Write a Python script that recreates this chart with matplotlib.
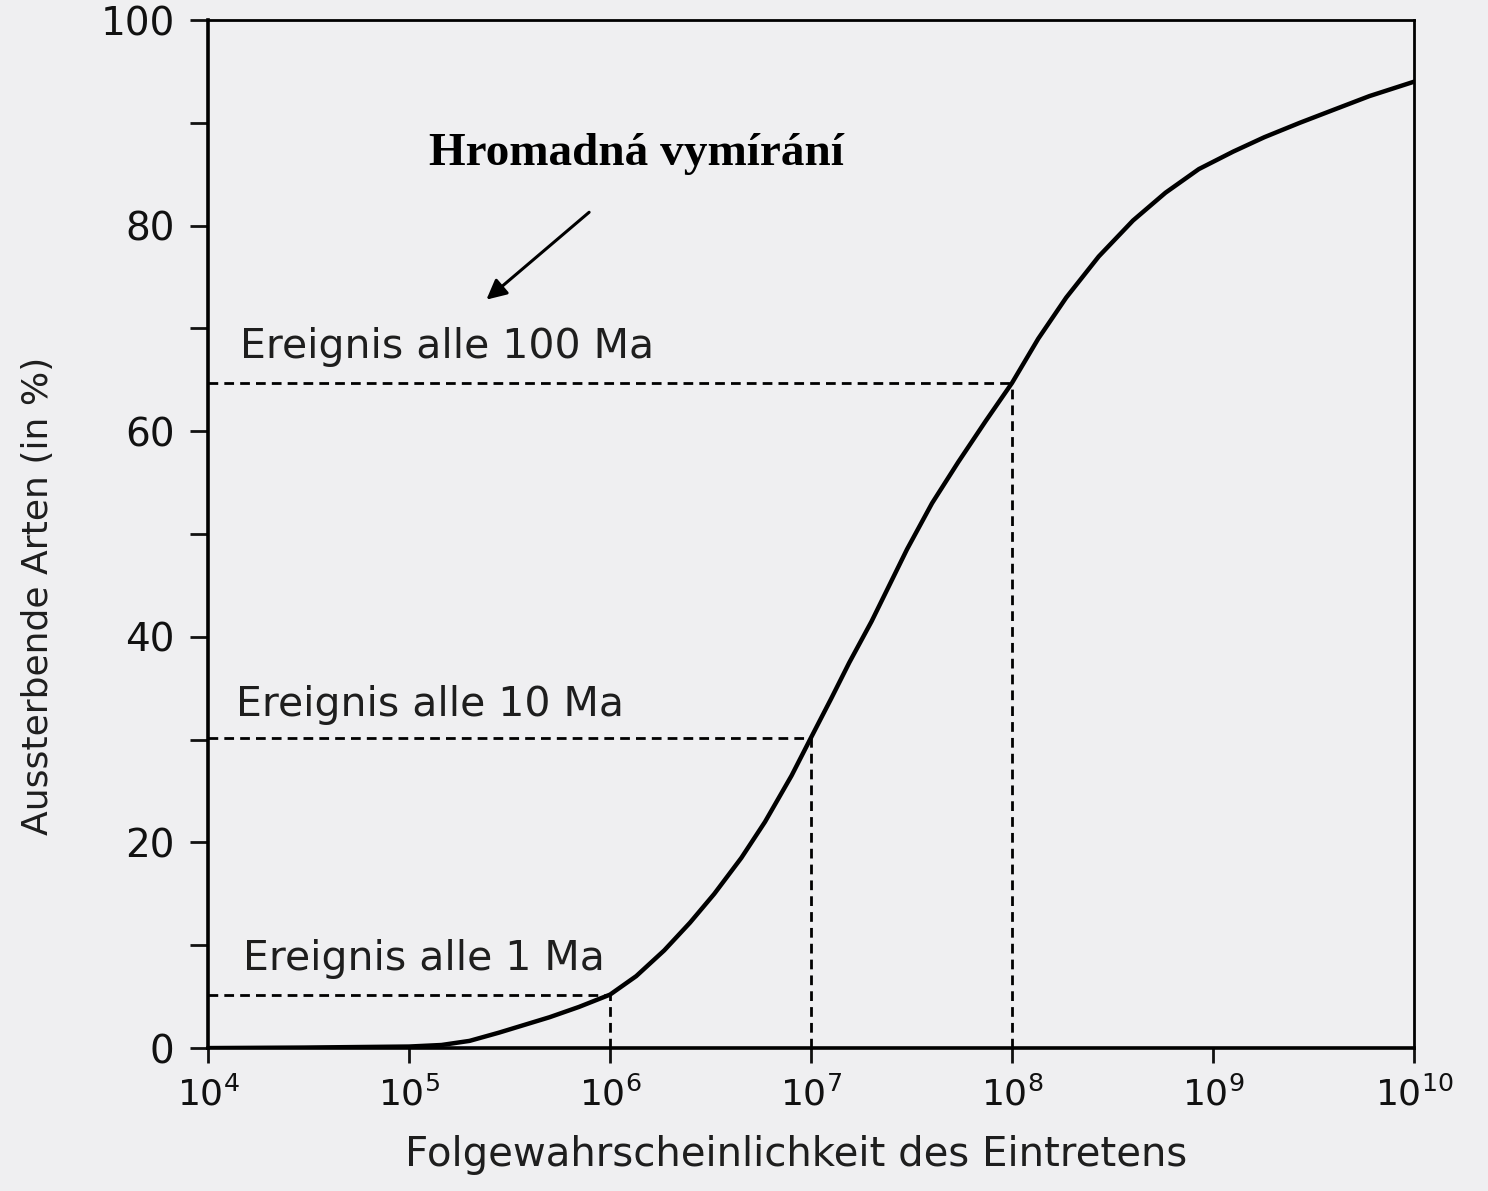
import matplotlib
matplotlib.use('Agg')
import matplotlib.pyplot as plt
import matplotlib.ticker as mticker
from matplotlib.patches import FancyArrowPatch

# Folgewahrscheinlichkeit (Jahre) und Anteil aussterbender Arten (%)
years = [1e4, 3e4, 1e5, 1.45e5, 2e5, 2.8e5, 5e5, 7e5, 1e6, 1.35e6, 1.86e6,
         2.5e6, 3.3e6, 4.5e6, 5.9e6, 8e6, 1e7, 1.26e7, 1.55e7, 2e7, 3e7,
         4e7, 5.4e7, 7.4e7, 1e8, 1.35e8, 1.86e8, 2.7e8, 4e8, 5.8e8, 8.5e8,
         1.26e9, 1.8e9, 2.7e9, 3.9e9, 6e9, 1e10]
extinct = [0, 0.05, 0.15, 0.3, 0.7, 1.5, 3.0, 4.0, 5.2, 7.0, 9.5,
           12.2, 15, 18.5, 22, 26.5, 30.2, 34, 37.5, 41.5, 48.5,
           53, 57, 61, 64.7, 69, 73, 77, 80.5, 83.2, 85.5,
           87.2, 88.6, 90, 91.2, 92.6, 94]

# Ereignisse alle 1 / 10 / 100 Ma
event_years = [1e6, 1e7, 1e8]
event_extinct = [5.2, 30.2, 64.7]
event_labels = ['Ereignis alle 1 Ma', 'Ereignis alle 10 Ma', 'Ereignis alle 100 Ma']
label_pos = [(1.5e4, 7.6), (1.38e4, 32.3), (1.44e4, 67.1)]

bg = '#efeff1'
fig = plt.figure(figsize=(14.88, 11.91), dpi=100, facecolor=bg)
ax = fig.add_axes([0.1398, 0.12, 0.8105, 0.8632])
ax.set_facecolor(bg)

ax.plot(years, extinct, color='black', lw=3.2, solid_joinstyle='round')

for x, y in zip(event_years, event_extinct):
    ax.plot([1e4, x], [y, y], color='black', lw=2, dashes=(3.5, 2.2))
    ax.plot([x, x], [0, y], color='black', lw=2, dashes=(3.5, 2.2))

for text, (x, y) in zip(event_labels, label_pos):
    ax.text(x, y, text, fontsize=29.5, color='#1e1e1e', va='baseline', ha='left')

ax.text(10**6.129, 85.9, 'Hromadná vymírání', family='Liberation Serif',
        fontweight='bold', fontsize=34, ha='center', va='baseline')
arrow = FancyArrowPatch((10**5.896, 81.3), (10**5.385, 72.8),
                        arrowstyle='-|>', color='black', lw=2.2,
                        mutation_scale=30, shrinkA=0, shrinkB=0)
ax.add_patch(arrow)

ax.set_xscale('log')
ax.set_xlim(1e4, 1e10)
ax.set_ylim(0, 100)
ax.xaxis.set_major_locator(mticker.LogLocator(base=10, numticks=10))
ax.xaxis.set_minor_locator(mticker.NullLocator())
ax.yaxis.set_major_locator(mticker.MultipleLocator(20))
ax.yaxis.set_minor_locator(mticker.MultipleLocator(10))

ax.tick_params(axis='y', which='both', direction='out', length=13, width=2,
               labelsize=28, pad=11, colors='#111111')
ax.tick_params(axis='x', which='major', direction='out', length=11, width=2,
               labelsize=26, pad=9, colors='#111111')
for side in ['left', 'bottom']:
    ax.spines[side].set_linewidth(2.6)
for side in ['top', 'right']:
    ax.spines[side].set_linewidth(2)

ax.set_xlabel('Folgewahrscheinlichkeit des Eintretens', fontsize=29, color='#1e1e1e')
ax.xaxis.set_label_coords(0.488, -0.085)
ax.set_ylabel('Aussterbende Arten (in %)', fontsize=26, color='#1e1e1e')
ax.yaxis.set_label_coords(-0.127, 0.44)

fig.savefig('out.png', dpi=100, facecolor=bg)
